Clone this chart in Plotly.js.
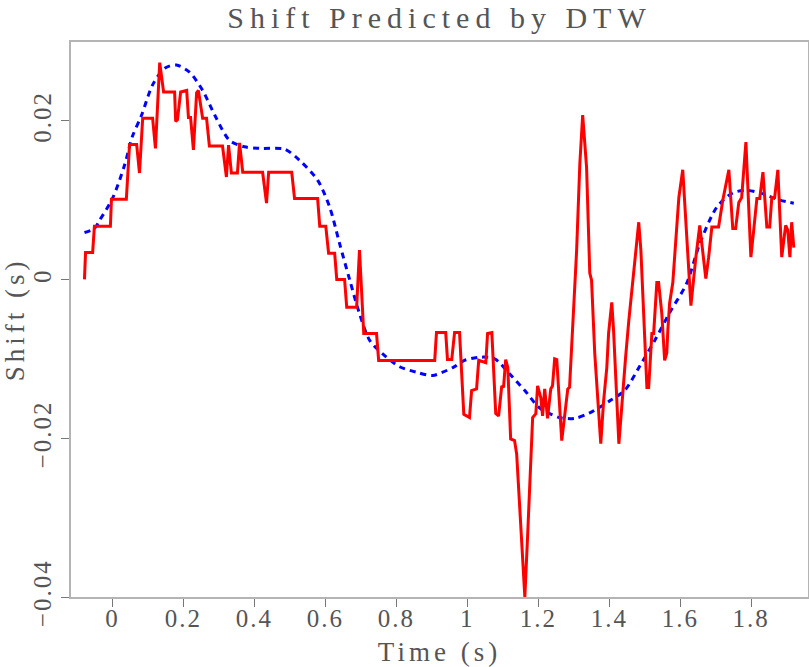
<!DOCTYPE html>
<html>
<head>
<meta charset="utf-8">
<script src="https://cdn.plot.ly/plotly-3.0.1.min.js"></script>
<style>
html,body{margin:0;padding:0;background:#fff;}
#chart{width:809px;height:667px;}
.gtitle{letter-spacing:6px;}
.xtick text,.ytick text{letter-spacing:2px;}
.g-xtitle text,.g-ytitle text{letter-spacing:4px;}
</style>
</head>
<body>
<div id="chart"></div>
<script>
// DTW predicted shift (red, solid)
var dtwTime = [-0.079,-0.076,-0.056,-0.051,-0.006,-0.003,0.039,0.048,0.068,0.076,0.085,0.113,0.121,0.133,0.144,0.175,0.178,0.183,0.192,0.209,0.214,0.220,0.228,0.237,0.242,0.254,0.265,0.273,0.310,0.321,0.327,0.335,0.352,0.358,0.367,0.423,0.434,0.440,0.505,0.513,0.578,0.584,0.601,0.609,0.626,0.632,0.654,0.660,0.688,0.696,0.708,0.744,0.750,0.908,0.913,0.939,0.944,0.956,0.964,0.978,0.990,1.006,1.012,1.026,1.032,1.052,1.057,1.069,1.080,1.088,1.097,1.102,1.108,1.114,1.122,1.133,1.139,1.162,1.170,1.184,1.193,1.198,1.207,1.212,1.218,1.226,1.235,1.240,1.246,1.252,1.266,1.277,1.283,1.288,1.308,1.317,1.325,1.336,1.345,1.350,1.359,1.376,1.384,1.393,1.398,1.407,1.412,1.427,1.438,1.446,1.455,1.466,1.475,1.483,1.489,1.506,1.511,1.520,1.525,1.534,1.539,1.548,1.556,1.562,1.565,1.570,1.579,1.590,1.596,1.607,1.630,1.644,1.655,1.672,1.680,1.689,1.708,1.720,1.737,1.748,1.756,1.765,1.773,1.785,1.799,1.807,1.816,1.824,1.833,1.844,1.852,1.858,1.866,1.875,1.886,1.897,1.903,1.909,1.914,1.920];
var dtwShift = [0,0.0034,0.0034,0.0067,0.0067,0.0101,0.0101,0.0170,0.0170,0.0134,0.0203,0.0203,0.0165,0.0273,0.0236,0.0236,0.0199,0.0201,0.0236,0.0238,0.0204,0.0204,0.0163,0.0235,0.0238,0.0203,0.0203,0.0168,0.0168,0.0129,0.0169,0.0134,0.0134,0.0172,0.0135,0.0135,0.0096,0.0135,0.0135,0.0102,0.0102,0.0067,0.0067,0.0033,0.0033,0,0,-0.0035,-0.0035,0.0037,-0.0068,-0.0068,-0.0102,-0.0102,-0.0067,-0.0067,-0.0101,-0.0101,-0.0067,-0.0067,-0.0170,-0.0174,-0.0140,-0.0138,-0.0102,-0.0105,-0.0068,-0.0067,-0.0169,-0.0172,-0.0134,-0.0136,-0.0101,-0.0111,-0.0201,-0.0203,-0.0220,-0.0400,-0.0321,-0.0174,-0.0169,-0.0134,-0.0149,-0.0172,-0.0138,-0.0175,-0.0138,-0.0134,-0.0100,-0.0101,-0.0203,-0.0165,-0.0138,-0.0136,0.0037,0.0146,0.0207,0.0141,0.0008,-0.0001,-0.0093,-0.0207,-0.0153,-0.0111,-0.0068,-0.0029,-0.0064,-0.0207,-0.0140,-0.0098,-0.0052,-0.0004,0.0037,0.0072,0.0037,-0.0136,-0.0136,-0.0068,-0.0068,-0.0004,-0.0004,-0.0043,-0.0102,-0.0093,-0.0064,-0.0030,-0.0004,0.0058,0.0103,0.0138,-0.0033,0.0028,0.0068,0.0001,0.0028,0.0066,0.0066,0.0100,0.0138,0.0064,0.0064,0.0097,0.0103,0.0173,0.0028,0.0062,0.0102,0.0102,0.0135,0.0066,0.0066,0.0103,0.0103,0.0138,0.0028,0.0068,0.0062,0.0028,0.0072,0.0040];

// Smooth reference shift (blue, dashed)
var refTime = [-0.079,-0.051,-0.037,0,0.034,0.056,0.082,0.113,0.147,0.180,0.217,0.254,0.288,0.330,0.372,0.414,0.485,0.527,0.578,0.612,0.640,0.668,0.696,0.725,0.767,0.809,0.857,0.902,0.959,0.992,1.035,1.077,1.119,1.162,1.204,1.260,1.303,1.345,1.401,1.443,1.486,1.528,1.570,1.618,1.655,1.703,1.748,1.787,1.824,1.880,1.920];
var refShift = [0.0059,0.0064,0.0074,0.0102,0.0144,0.0180,0.0207,0.0245,0.0266,0.0270,0.0261,0.0238,0.0207,0.0175,0.0167,0.0165,0.0164,0.0150,0.0125,0.0091,0.0045,0,-0.0043,-0.0077,-0.0096,-0.0110,-0.0117,-0.0121,-0.0111,-0.0102,-0.0098,-0.0100,-0.0119,-0.0140,-0.0162,-0.0174,-0.0175,-0.0168,-0.0153,-0.0140,-0.0109,-0.0077,-0.0042,-0.0005,0.0045,0.0091,0.0109,0.0112,0.0109,0.0100,0.0096];

var xTickStep = 0.2;
var yTickStep = 0.02;

var fontFam = '"Liberation Serif", "DejaVu Serif", serif';
var textCol = '#555555';

var traces = [
  {x: refTime, y: refShift, type: 'scatter', mode: 'lines',
   line: {color: '#0000ff', width: 3, dash: '6px,5px', shape: 'spline', smoothing: 0.8},
   hoverinfo: 'skip', showlegend: false},
  {x: dtwTime, y: dtwShift, type: 'scatter', mode: 'lines',
   line: {color: '#ff0000', width: 3},
   hoverinfo: 'skip', showlegend: false}
];

var layout = {
  width: 809, height: 667,
  margin: {l: 71, r: 1, t: 42, b: 70},
  paper_bgcolor: '#ffffff', plot_bgcolor: '#ffffff',
  font: {family: fontFam, color: textCol, size: 24},
  title: {text: 'Shift Predicted by DTW', font: {family: fontFam, size: 30, color: textCol},
          x: 0.5, xref: 'paper', xanchor: 'center', y: 0.9735, yref: 'container', yanchor: 'middle'},
  xaxis: {
    range: [-0.117, 1.96], dtick: xTickStep, tick0: 0,
    showgrid: false, zeroline: false,
    showline: true, linecolor: '#b4b4b4', linewidth: 2, mirror: true,
    ticks: 'outside', ticklen: 8, tickcolor: '#777777', tickwidth: 1,
    ticklabelstandoff: -10,
    tickfont: {family: fontFam, size: 25, color: textCol},
    title: {text: 'Time (s)', font: {family: fontFam, size: 27, color: textCol}, standoff: 14}
  },
  yaxis: {
    range: [-0.04, 0.0299], dtick: yTickStep, tick0: 0,
    showgrid: false, zeroline: false,
    showline: true, linecolor: '#b4b4b4', linewidth: 2, mirror: true,
    ticks: 'outside', ticklen: 8, tickcolor: '#777777', tickwidth: 1,
    tickangle: -90,
    tickfont: {family: fontFam, size: 25, color: textCol},
    title: {text: 'Shift (s)', font: {family: fontFam, size: 27, color: textCol}, standoff: 4}
  }
};

Plotly.newPlot('chart', traces, layout, {staticPlot: true, displayModeBar: false});
</script>
</body>
</html>
